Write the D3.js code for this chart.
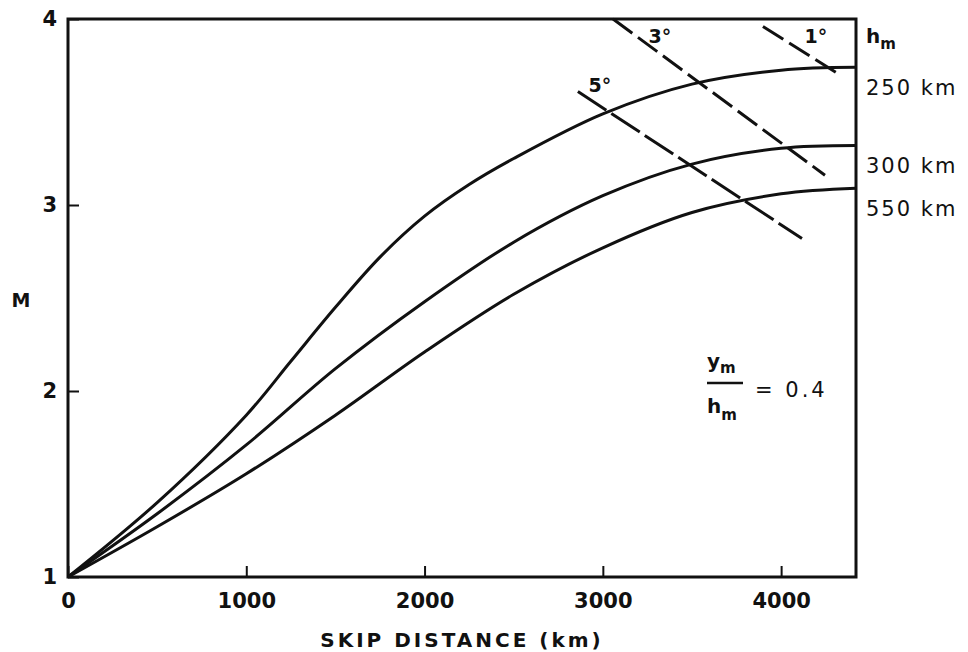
<!DOCTYPE html>
<html>
<head>
<meta charset="utf-8">
<script src="https://cdn.jsdelivr.net/npm/d3@7"></script>
<style>
  body { margin: 0; background: #fff; }
  svg { display: block; }
  text { font-family: "DejaVu Sans", sans-serif; fill: #111; }
</style>
</head>
<body>
<svg width="968" height="652"></svg>
<script>
// curves: skip distance (km) vs M, for each h_m
var heights = ["250 km", "300 km", "550 km"];
var dist250 = [0, 500, 1000, 1250, 1500, 1750, 2000, 2250, 2500, 3000, 3500, 4000, 4420];
var m250    = [1.0, 1.40, 1.87, 2.16, 2.45, 2.72, 2.94, 3.11, 3.25, 3.49, 3.65, 3.725, 3.74];
var dist300 = [0, 500, 1000, 1500, 2000, 2500, 3000, 3500, 4000, 4420];
var m300    = [1.0, 1.34, 1.71, 2.12, 2.48, 2.80, 3.05, 3.22, 3.305, 3.32];
var dist550 = [0, 500, 1000, 1500, 2000, 2500, 3000, 3500, 4000, 4420];
var m550    = [1.0, 1.27, 1.555, 1.87, 2.21, 2.52, 2.77, 2.96, 3.06, 3.09];

// dashed lines of constant take-off angle: [x0, y0, x1, y1]
var angles = ["5°", "3°", "1°"];
var angleLines = [
  [2860, 3.61, 4117, 2.82],
  [3057, 4.00, 4246, 3.16],
  [3898, 3.96, 4313, 3.71]
];
var angleLabelAt = [[2984, 3.61], [3320, 3.87], [4195, 3.87]];

var xTicks = [0, 1000, 2000, 3000, 4000];
var yTicks = [1, 2, 3, 4];

var svg = d3.select("svg");

var x = d3.scaleLinear().domain([0, 4420]).range([68, 856]);
var y = d3.scaleLinear().domain([1, 4]).range([577, 19]);

var series = [
  { name: heights[0], d: dist250, m: m250 },
  { name: heights[1], d: dist300, m: m300 },
  { name: heights[2], d: dist550, m: m550 }
];

// axes with inward ticks
var xAxis = svg.append("g")
    .attr("transform", "translate(0," + y(1) + ")")
    .call(d3.axisBottom(x).tickValues(xTicks).tickSize(-11).tickPadding(16).tickFormat(d3.format("d")));
var yAxis = svg.append("g")
    .attr("transform", "translate(" + x(0) + ",0)")
    .call(d3.axisLeft(y).tickValues(yTicks).tickSize(-11).tickPadding(11).tickFormat(d3.format("d")));

[xAxis, yAxis].forEach(function(a) {
  a.select(".domain").remove();
  a.selectAll("line").attr("stroke", "#111").attr("stroke-width", 2);
  a.selectAll("text").style("font-size", "21px").style("font-weight", "bold").attr("fill", "#111");
});

// frame
svg.append("rect")
    .attr("x", x(0)).attr("y", y(4))
    .attr("width", x(4420) - x(0)).attr("height", y(1) - y(4))
    .attr("fill", "none").attr("stroke", "#111").attr("stroke-width", 3);

var line = d3.line()
    .x(function(p) { return x(p[0]); })
    .y(function(p) { return y(p[1]); })
    .curve(d3.curveCatmullRom.alpha(0.5));

series.forEach(function(s) {
  var pts = s.d.map(function(v, i) { return [v, s.m[i]]; });
  svg.append("path")
      .attr("d", line(pts))
      .attr("fill", "none").attr("stroke", "#111").attr("stroke-width", 3);

  svg.append("text")
      .attr("x", 866)
      .attr("y", y(s.m[s.m.length - 1]) + 28)
      .style("font-size", "21px")
      .style("letter-spacing", "2px")
      .text(s.name);
});

// angle lines
angleLines.forEach(function(l, i) {
  svg.append("line")
      .attr("x1", x(l[0])).attr("y1", y(l[1]))
      .attr("x2", x(l[2])).attr("y2", y(l[3]))
      .attr("stroke", "#111").attr("stroke-width", 3)
      .attr("stroke-dasharray", i === 0 ? "34,6" : "24,7");
  svg.append("text")
      .attr("x", x(angleLabelAt[i][0]))
      .attr("y", y(angleLabelAt[i][1]))
      .attr("text-anchor", "middle")
      .style("font-size", "19px")
      .style("font-weight", "bold")
      .text(angles[i]);
});

// h_m header
var hm = svg.append("text").attr("x", 866).attr("y", 43).style("font-size", "20px").style("font-weight", "bold");
hm.append("tspan").text("h");
hm.append("tspan").attr("dy", 6).style("font-size", "15px").text("m");

// y_m / h_m = 0.4
var fx = 707, fy = 383;
var num = svg.append("text").attr("x", fx).attr("y", fy - 15).style("font-size", "20px").style("font-weight", "bold");
num.append("tspan").text("y");
num.append("tspan").attr("dy", 5).style("font-size", "15px").text("m");
svg.append("line")
    .attr("x1", fx).attr("x2", fx + 36).attr("y1", fy).attr("y2", fy)
    .attr("stroke", "#111").attr("stroke-width", 2.5);
var den = svg.append("text").attr("x", fx).attr("y", fy + 30).style("font-size", "20px").style("font-weight", "bold");
den.append("tspan").text("h");
den.append("tspan").attr("dy", 7).style("font-size", "15px").text("m");
svg.append("text")
    .attr("x", fx + 48).attr("y", fy + 14)
    .style("font-size", "21px")
    .style("letter-spacing", "3px")
    .text("= 0.4");

// axis titles
svg.append("text")
    .attr("x", 462).attr("y", 647)
    .attr("text-anchor", "middle")
    .style("font-size", "20px")
    .style("font-weight", "bold")
    .style("letter-spacing", "3px")
    .text("SKIP DISTANCE (km)");

svg.append("text")
    .attr("x", 21).attr("y", 307)
    .attr("text-anchor", "middle")
    .style("font-size", "19px")
    .style("font-weight", "bold")
    .text("M");
</script>
</body>
</html>
